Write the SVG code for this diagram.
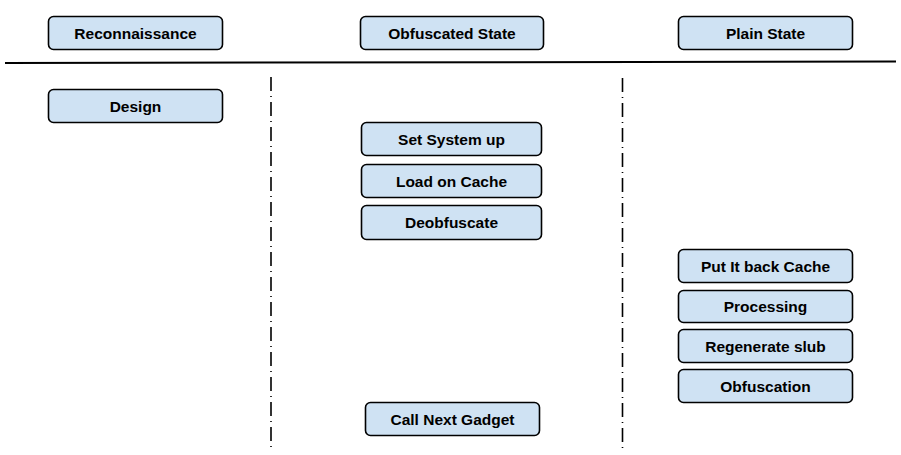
<svg xmlns="http://www.w3.org/2000/svg" width="901" height="455" viewBox="0 0 901 455">
<style>
.box{fill:#cfe2f3;stroke:#000;stroke-width:1.6}
.lbl{font-family:"Liberation Sans",Arial,sans-serif;font-weight:bold;font-size:15.5px;fill:#000;text-anchor:middle;dominant-baseline:central}
.sep{stroke:#000;stroke-width:2;fill:none}
.dd{stroke:#000;stroke-width:1.6;fill:none;stroke-dasharray:14 5 1 5}
</style>
<rect width="901" height="455" fill="#fff"/>
<g id="connectors">
<line class="sep" x1="5" y1="63" x2="896" y2="61.5"/>
<line class="dd" x1="271" y1="77" x2="271" y2="450"/>
<line class="dd" x1="622.5" y1="78" x2="622.5" y2="450"/>
</g>
<g id="reconnaissance"><rect class="box" x="48.5" y="16.5" width="174" height="33" rx="5"/><text class="lbl" x="135.5" y="33">Reconnaissance</text></g>
<g id="obfuscated-state"><rect class="box" x="360.5" y="16.5" width="183" height="33" rx="5"/><text class="lbl" x="452" y="33">Obfuscated State</text></g>
<g id="plain-state"><rect class="box" x="678.5" y="16.5" width="174" height="33" rx="5"/><text class="lbl" x="765.5" y="33">Plain State</text></g>
<g id="design"><rect class="box" x="48.5" y="89.5" width="174" height="33" rx="5"/><text class="lbl" x="135.5" y="106">Design</text></g>
<g id="set-system-up"><rect class="box" x="361.5" y="122.5" width="180" height="33" rx="5"/><text class="lbl" x="451.5" y="139">Set System up</text></g>
<g id="load-on-cache"><rect class="box" x="361.5" y="164.5" width="180" height="33" rx="5"/><text class="lbl" x="451.5" y="181">Load on Cache</text></g>
<g id="deobfuscate"><rect class="box" x="361.5" y="205.5" width="180" height="34" rx="5"/><text class="lbl" x="451.5" y="222.5">Deobfuscate</text></g>
<g id="put-it-back-cache"><rect class="box" x="678.5" y="249.5" width="174" height="33" rx="5"/><text class="lbl" x="765.5" y="266">Put It back Cache</text></g>
<g id="processing"><rect class="box" x="678.5" y="290.5" width="174" height="32" rx="5"/><text class="lbl" x="765.5" y="306.5">Processing</text></g>
<g id="regenerate-slub"><rect class="box" x="678.5" y="329.5" width="174" height="33" rx="5"/><text class="lbl" x="765.5" y="346">Regenerate slub</text></g>
<g id="obfuscation"><rect class="box" x="678.5" y="369.5" width="174" height="33" rx="5"/><text class="lbl" x="765.5" y="386">Obfuscation</text></g>
<g id="call-next-gadget"><rect class="box" x="365.5" y="402.5" width="174" height="33" rx="5"/><text class="lbl" x="452.5" y="419">Call Next Gadget</text></g>
</svg>
